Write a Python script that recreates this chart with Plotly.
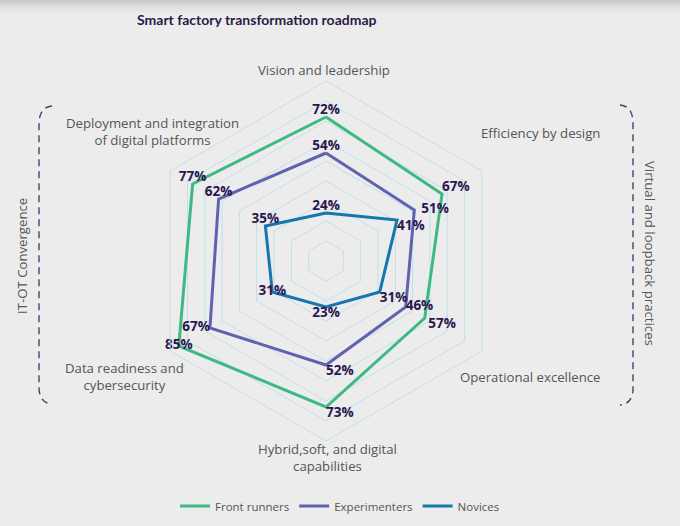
import plotly.graph_objects as go

W, H = 680, 526

categories = ["Vision and leadership", "Efficiency by design", "Operational excellence",
              "Hybrid,soft, and digital capabilities", "Data readiness and cybersecurity",
              "Deployment and integration of digital platforms"]
front_runners = [72, 67, 57, 73, 85, 77]
experimenters = [54, 51, 46, 52, 67, 62]
novices = [24, 41, 31, 23, 31, 35]
series_names = ["Front runners", "Experimenters", "Novices"]
radial_ticks = [10, 20, 30, 40, 50, 60, 70, 80, 90]

colors = ["#3dba84", "#6062b0", "#1577ad"]
textpos = [
    ["top center", "top right", "bottom right", "bottom right", "middle center", "top center"],
    ["top center", "middle right", "middle right", "bottom right", "middle left", "top center"],
    ["top center", "bottom right", "bottom right", "bottom center", "middle center", "top center"],
]
# small leading pad (non-breaking spaces) for a few labels, as in the reference
pads = [
    ["", "", "\u00a0", "", "", ""],
    ["", "\u00a0\u00a0", "", "", "", ""],
    ["", "", "", "", "", ""],
]

def px(x):
    return x / W

def py(y):
    return 1 - y / H

fig = go.Figure()
for name, vals, col, tp, pd_ in zip(series_names, [front_runners, experimenters, novices], colors, textpos, pads):
    r = vals + [vals[0]]
    theta = categories + [categories[0]]
    fig.add_trace(go.Scatterpolar(
        r=r, theta=theta, name=name, mode="lines+text",
        line=dict(color=col, width=3),
        text=[f"{p}{v}%" for p, v in zip(pd_, vals)] + [""],
        textposition=tp + ["middle center"],
        textfont=dict(family="Open Sans", size=13.5, color="#2a1650", weight="bold"),
        hoverinfo="skip",
    ))

grid = "#c0e0ea"
fig.update_layout(
    width=W, height=H,
    margin=dict(l=0, r=0, t=0, b=0),
    paper_bgcolor="#ececec",
    plot_bgcolor="#ececec",
    showlegend=True,
    legend=dict(orientation="h", x=0.5, xanchor="center", y=py(506), yanchor="middle",
                font=dict(family="Open Sans", size=11.5, color="#555555"),
                bgcolor="rgba(0,0,0,0)", itemwidth=30, tracegroupgap=0),
    polar=dict(
        domain=dict(x=[px(146), px(506)], y=[py(441), py(81)]),
        bgcolor="rgba(0,0,0,0)",
        gridshape="linear",
        radialaxis=dict(range=[0, 90], tickvals=radial_ticks, showticklabels=False, ticks="",
                        showline=False, gridcolor=grid, gridwidth=1),
        angularaxis=dict(categoryorder="array", categoryarray=categories, rotation=90,
                         direction="clockwise", showgrid=False, showticklabels=False, ticks="",
                         showline=True, linecolor=grid, linewidth=1),
    ),
)

# top shading
shapes = []
for i, op in enumerate([0.14, 0.11, 0.08, 0.06, 0.04, 0.025, 0.012]):
    shapes.append(dict(type="rect", xref="paper", yref="paper", x0=0, x1=1,
                       y0=py(2 * i + 2), y1=py(2 * i), fillcolor="#000000", opacity=op,
                       line=dict(width=0), layer="below"))

def path(points):
    s = ""
    for cmd, pts in points:
        s += cmd + " ".join(f"{px(x):.5f},{py(y):.5f}" for x, y in pts) + " "
    return s.strip()

bracket_line = dict(color="#4b3d6a", width=1.4, dash="7px,5px")
shapes.append(dict(type="path", xref="paper", yref="paper", line=bracket_line,
                   path=path([("M", [(52, 106)]), ("Q", [(40, 107), (39, 122)]),
                              ("L", [(39, 389)]), ("Q", [(40, 403), (52, 404)])])))
shapes.append(dict(type="path", xref="paper", yref="paper", line=bracket_line,
                   path=path([("M", [(620, 105)]), ("Q", [(632, 106), (633, 121)]),
                              ("L", [(633, 390)]), ("Q", [(632, 404), (620, 405)])])))
fig.update_layout(shapes=shapes)

lab = dict(family="Open Sans", size=13.2, color="#555555")
annos = [
    ("Vision and leadership", 324, 70),
    ("Efficiency by design", 540, 133),
    ("Operational excellence", 530, 377),
    ("Hybrid,soft, and digital<br>capabilities", 327, 457),
    ("Data readiness and<br>cybersecurity", 124, 376),
    ("Deployment and integration<br>of digital platforms", 152, 132),
]
for t, x, y in annos:
    fig.add_annotation(text=t, x=px(x), y=py(y), xref="paper", yref="paper",
                       showarrow=False, font=lab, align="center", xanchor="center", yanchor="middle")

fig.add_annotation(text="IT-OT Convergence", x=px(22), y=py(256), xref="paper", yref="paper",
                   showarrow=False, textangle=-90, font=lab, xanchor="center", yanchor="middle")
fig.add_annotation(text="Virtual and loopback practices", x=px(650), y=py(253), xref="paper", yref="paper",
                   showarrow=False, textangle=90, font=lab, xanchor="center", yanchor="middle")
fig.add_annotation(text="<b>Smart factory transformation roadmap</b>", x=px(257), y=py(19),
                   xref="paper", yref="paper", showarrow=False, xanchor="center", yanchor="middle",
                   font=dict(family="Lato", size=14, color="#2a1a48"))

fig.write_html("out.html", config={"displayModeBar": False},
               post_script="document.body.style.margin='0';document.body.style.padding='0';"
                           "document.body.style.background='#ececec';")
